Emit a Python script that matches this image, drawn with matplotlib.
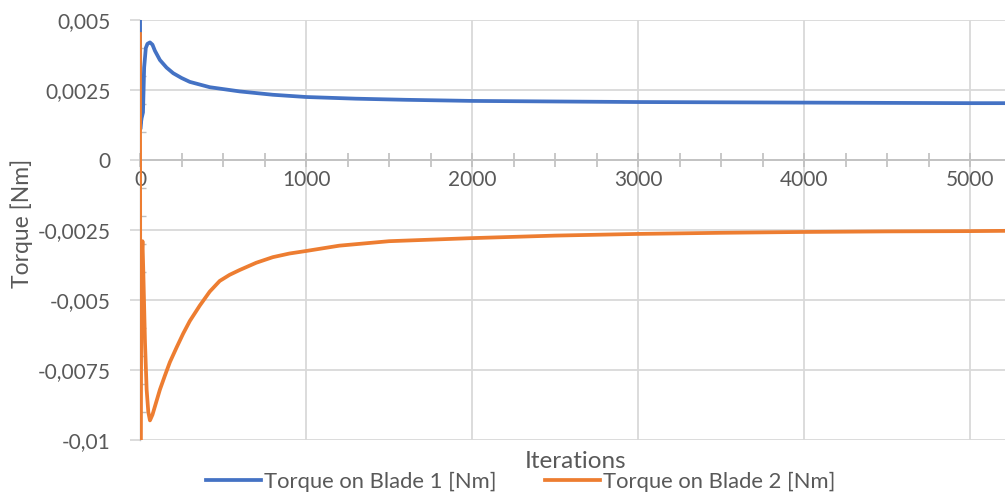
import matplotlib
matplotlib.use("Agg")
import matplotlib.pyplot as plt
from matplotlib.ticker import FixedLocator, MultipleLocator, FuncFormatter

# ---- data ----
blade1_iter = [0, 2, 5, 10, 18, 25, 35, 45, 60, 75, 90, 120, 160, 200, 250, 300, 420,
               600, 800, 1000, 1300, 1600, 2000, 2500, 3000, 3500, 4000, 4500, 5000, 5210]
blade1_torque = [0.0060, 0.0011, 0.0013, 0.0015, 0.0017, 0.0033, 0.0040, 0.00415, 0.0042,
                 0.00412, 0.0039, 0.00357, 0.0033, 0.0031, 0.00293, 0.00279, 0.0026,
                 0.00245, 0.00233, 0.00225, 0.00219, 0.00215, 0.00211, 0.00209, 0.00207,
                 0.00206, 0.00205, 0.00204, 0.00203, 0.00203]

blade2_iter = [0, 1, 3, 6, 10, 15, 20, 30, 40, 50, 60, 75, 90, 120, 150, 180, 220, 260,
               300, 360, 420, 480, 540, 600, 700, 800, 900, 1000, 1200, 1500, 2000, 2500,
               3000, 3500, 4000, 4500, 5000, 5210]
blade2_torque = [0.0045, -0.0030, -0.0105, -0.0060, -0.0035, -0.0029, -0.0040, -0.0065,
                 -0.0082, -0.0090, -0.0093, -0.0091, -0.0088, -0.0082, -0.0077, -0.00722,
                 -0.0067, -0.0062, -0.00575, -0.0052, -0.0047, -0.00432, -0.0041,
                 -0.00393, -0.00367, -0.00347, -0.00334, -0.00325, -0.00306, -0.0029,
                 -0.00279, -0.0027, -0.00264, -0.0026, -0.00257, -0.00255, -0.00254,
                 -0.00253]

x_ticks = [0, 1000, 2000, 3000, 4000, 5000]
y_ticks = [-0.01, -0.0075, -0.005, -0.0025, 0, 0.0025, 0.005]
y_labels = ["-0,01", "-0,0075", "-0,005", "-0,0025", "0", "0,0025", "0,005"]
series_names = ["Torque on Blade 1 [Nm]", "Torque on Blade 2 [Nm]"]

# ---- style ----
FONT = "Lato"
TXT = "#595959"
GRID = "#D9D9D9"
AXIS = "#BFBFBF"
BLUE = "#4472C4"
ORANGE = "#ED7D31"
plt.rcParams["font.family"] = [FONT, "DejaVu Sans"]

W, H = 1005, 493
fig = plt.figure(figsize=(W / 100, H / 100), dpi=100)
ax = fig.add_axes([140 / W, 53 / H, (W - 140) / W, 420 / H])

ax.plot(blade1_iter, blade1_torque, color=BLUE, lw=2.7, label=series_names[0],
        solid_joinstyle="round", zorder=3)
ax.plot(blade2_iter, blade2_torque, color=ORANGE, lw=2.7, label=series_names[1],
        solid_joinstyle="round", zorder=3)

ax.set_xlim(0, 5210)
ax.set_ylim(-0.01, 0.005)

# spines
for s in ["top", "right"]:
    ax.spines[s].set_visible(False)
ax.spines["left"].set_color(AXIS)
ax.spines["left"].set_linewidth(1.0)
ax.spines["bottom"].set_position(("data", 0))
ax.spines["bottom"].set_color(AXIS)
ax.spines["bottom"].set_linewidth(1.2)

# grid
ax.xaxis.set_major_locator(FixedLocator(x_ticks))
ax.yaxis.set_major_locator(FixedLocator(y_ticks))
ax.yaxis.set_major_formatter(FuncFormatter(
    lambda v, p: next((l for t, l in zip(y_ticks, y_labels) if abs(t - v) < 1e-9), "")))
ax.grid(True, which="major", color=GRID, lw=1.3, zorder=0)
ax.set_axisbelow(True)

ax.xaxis.set_minor_locator(MultipleLocator(250))
ax.yaxis.set_minor_locator(MultipleLocator(0.001))
ax.tick_params(axis="x", which="major", length=10, direction="inout", color=AXIS,
               width=1.2, pad=2, labelsize=15, labelcolor=TXT)
ax.tick_params(axis="x", which="minor", length=10, direction="inout", color=AXIS, width=1.2)
ax.tick_params(axis="y", which="major", length=7, direction="out", color=GRID,
               width=1.3, pad=14, labelsize=15, labelcolor=TXT)
ax.tick_params(axis="y", which="minor", length=4, direction="in", color=AXIS, width=1.0)

# labels
fig.text(576 / W, 1 - 461 / H, "Iterations", ha="center", va="center",
         fontsize=17.5, color=TXT)
fig.text(22 / W, 1 - 223 / H, "Torque [Nm]", ha="center", va="center",
         rotation=90, fontsize=16.5, color=TXT)

handles, labels = ax.get_legend_handles_labels()
leg = fig.legend(handles, labels, loc="center", bbox_to_anchor=(521 / W, 1 - 482 / H),
                 ncol=2, frameon=False, fontsize=15.8, handlelength=2.5,
                 handletextpad=0.15, columnspacing=2.2, borderpad=0)
for t in leg.get_texts():
    t.set_color(TXT)

fig.savefig("out.png", dpi=100)
